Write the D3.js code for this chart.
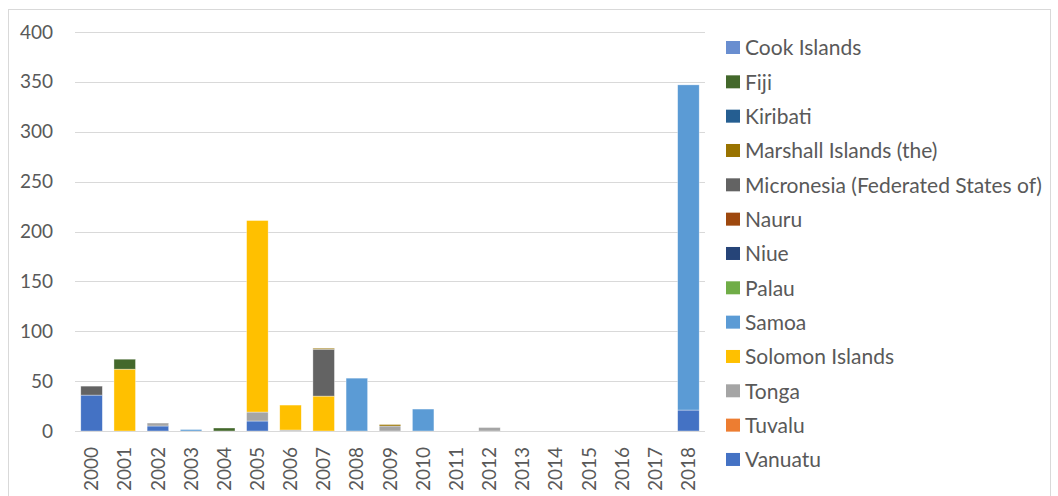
<!DOCTYPE html>
<html>
<head>
<meta charset="utf-8">
<script src="https://cdn.jsdelivr.net/npm/d3@7"></script>
<style>
  html, body { margin: 0; padding: 0; background: #fff; }
  svg { display: block; }
  text { font-family: Lato, "Open Sans", sans-serif; fill: #595959; }
</style>
</head>
<body>
<svg id="chart" width="1058" height="496"></svg>
<script>
// Years on the category axis
const years = ["2000","2001","2002","2003","2004","2005","2006","2007","2008","2009",
               "2010","2011","2012","2013","2014","2015","2016","2017","2018"];

// Series values per year (stack order: first series at the bottom)
const vanuatu      = [36, 0, 5, 0, 0, 10, 0, 0, 0, 0, 0, 0, 0, 0, 0, 0, 0, 0, 21];
const tuvalu       = [0, 0, 0, 0, 0, 0, 0, 0, 0, 0, 0, 0, 0, 0, 0, 0, 0, 0, 0];
const tonga        = [0, 0, 3, 0, 0, 9, 1, 0, 0, 5, 0, 0, 3.5, 0, 0, 0, 0, 0, 0];
const solomon      = [0, 62, 0, 0, 0, 192, 25, 35, 0, 0, 0, 0, 0, 0, 0, 0, 0, 0, 0];
const samoa        = [0, 0, 0, 1.5, 0, 0, 0, 0, 53, 0, 22, 0, 0, 0, 0, 0, 0, 0, 326];
const palau        = [0, 0, 0, 0, 0, 0, 0, 0, 0, 0, 0, 0, 0, 0, 0, 0, 0, 0, 0];
const niue         = [0, 0, 0, 0, 0, 0, 0, 0, 0, 0, 0, 0, 0, 0, 0, 0, 0, 0, 0];
const nauru        = [0, 0, 0, 0, 0, 0, 0, 0, 0, 0, 0, 0, 0, 0, 0, 0, 0, 0, 0];
const micronesia   = [9, 0, 0, 0, 0, 0, 0, 47, 0, 0, 0, 0, 0, 0, 0, 0, 0, 0, 0];
const marshall     = [0, 0, 0, 0, 0, 0, 0, 1, 0, 1.5, 0, 0, 0, 0, 0, 0, 0, 0, 0];
const kiribati     = [0, 0, 0, 0, 0, 0, 0, 0, 0, 0, 0, 0, 0, 0, 0, 0, 0, 0, 0];
const fiji         = [0, 10, 0, 0, 3, 0, 0, 0, 0, 0, 0, 0, 0, 0, 0, 0, 0, 0, 0];
const cookIslands  = [0, 0, 0, 0, 0, 0, 0, 0, 0, 0, 0, 0, 0, 0, 0, 0, 0, 0, 0];

const seriesNames = ["Vanuatu","Tuvalu","Tonga","Solomon Islands","Samoa","Palau","Niue",
                     "Nauru","Micronesia (Federated States of)","Marshall Islands (the)",
                     "Kiribati","Fiji","Cook Islands"];
const seriesValues = [vanuatu, tuvalu, tonga, solomon, samoa, palau, niue,
                      nauru, micronesia, marshall, kiribati, fiji, cookIslands];
const seriesColors = ["#4472C4","#ED7D31","#A5A5A5","#FFC000","#5B9BD5","#70AD47","#264478",
                      "#9E480E","#636363","#997300","#255E91","#43682B","#698ED0"];
const yTicks = [0, 50, 100, 150, 200, 250, 300, 350, 400];

const svg = d3.select("#chart");

// Chart area border
svg.append("rect")
  .attr("x", 8.5).attr("y", 9.5).attr("width", 1042).attr("height", 500)
  .attr("fill", "#fff").attr("stroke", "#D9D9D9").attr("stroke-width", 1);

const plot = { left: 75, right: 705, top: 32, bottom: 431 };

const x = d3.scaleBand().domain(years).range([plot.left, plot.right]).paddingInner(0.35).paddingOuter(0.175);
const y = d3.scaleLinear().domain([0, 400]).range([plot.bottom, plot.top]);

// Gridlines
svg.append("g").selectAll("line").data(yTicks).join("line")
  .attr("x1", plot.left).attr("x2", plot.right)
  .attr("y1", d => Math.round(y(d)) + 0.5).attr("y2", d => Math.round(y(d)) + 0.5)
  .attr("stroke", "#D9D9D9").attr("stroke-width", 1);

// Y axis labels
const yAxis = d3.axisLeft(y).tickValues(yTicks).tickSize(0).tickPadding(0);
svg.append("g").attr("transform", "translate(53,0)").call(yAxis)
  .call(g => g.select(".domain").remove())
  .selectAll("text")
  .attr("font-size", 19).attr("font-family", "Lato, sans-serif").attr("fill", "#595959");

// Stacked data
const rows = years.map((yr, i) => {
  const r = { year: yr };
  seriesNames.forEach((n, k) => { r[n] = seriesValues[k][i]; });
  return r;
});
const stacked = d3.stack().keys(seriesNames)(rows);

svg.append("g").selectAll("g").data(stacked).join("g")
  .attr("fill", (d, k) => seriesColors[k])
  .selectAll("rect").data(d => d.filter(s => s[1] - s[0] > 0)).join("rect")
  .attr("x", d => x(d.data.year))
  .attr("width", x.bandwidth())
  .attr("y", d => y(d[1]))
  .attr("height", d => y(d[0]) - y(d[1]))
  .attr("stroke", "#fff").attr("stroke-width", 0.6).attr("stroke-opacity", 0.6);

// X axis baseline redrawn over bars
svg.append("line")
  .attr("x1", plot.left).attr("x2", plot.right)
  .attr("y1", plot.bottom + 0.5).attr("y2", plot.bottom + 0.5)
  .attr("stroke", "#D9D9D9").attr("stroke-width", 1);

// X axis labels (rotated)
const xAxis = d3.axisBottom(x).tickSize(0).tickPadding(0);
svg.append("g").attr("transform", `translate(0,${plot.bottom})`).call(xAxis)
  .call(g => g.select(".domain").remove())
  .selectAll("text")
  .attr("font-size", 19).attr("font-family", "Lato, sans-serif").attr("fill", "#595959")
  .attr("transform", "rotate(-90)")
  .attr("x", -16).attr("y", 0).attr("dy", "0.35em")
  .attr("text-anchor", "end");

// Legend (listed in reverse stack order)
const legendOrder = seriesNames.map((n, k) => k).reverse();
const legend = svg.append("g").selectAll("g").data(legendOrder).join("g")
  .attr("transform", (k, i) => `translate(726, ${48 + i * 34.33})`);
legend.append("rect")
  .attr("x", 0).attr("y", -7).attr("width", 14).attr("height", 13)
  .attr("fill", k => seriesColors[k]);
legend.append("text")
  .attr("x", 19).attr("y", 0).attr("dy", "0.35em")
  .attr("font-size", 21)
  .text(k => seriesNames[k]);
</script>
</body>
</html>
